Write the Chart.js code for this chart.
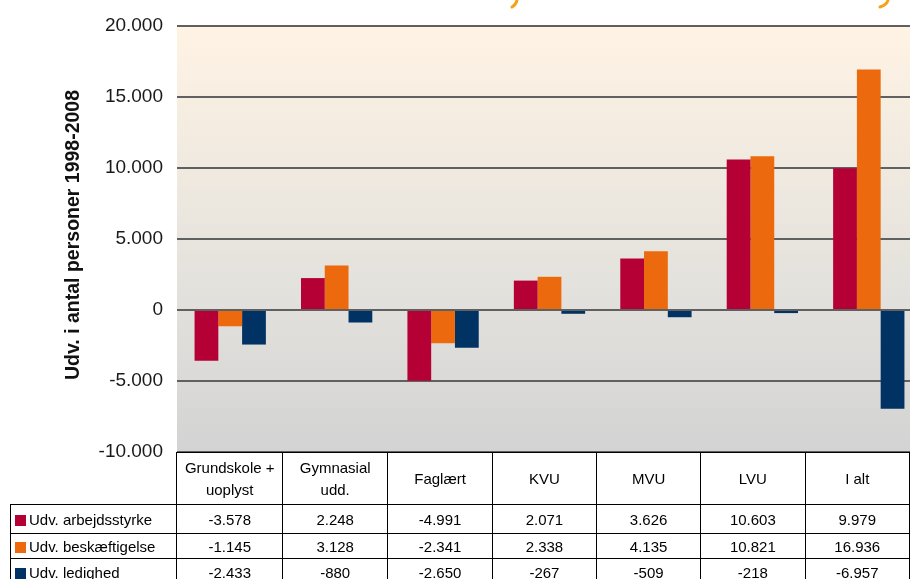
<!DOCTYPE html>
<html>
<head>
<meta charset="utf-8">
<script src="https://cdn.jsdelivr.net/npm/chart.js@4"></script>
<style>
  html, body { margin: 0; padding: 0; overflow: hidden; background: #fff; width: 910px; height: 579px; }
  #wrap { position: absolute; left: 0; top: 0; width: 922px; height: 500px; }
  #tbl {
    position: absolute; left: 10px; top: 452px;
    border-collapse: collapse; table-layout: fixed;
    font-family: "Liberation Sans", Arial, sans-serif; font-size: 15px; color: #000;
  }
  #tbl td { border: 1px solid #000; text-align: center; padding: 0; overflow: hidden; white-space: nowrap; }
  #tbl tr.head td { height: 51px; line-height: 22px; }
  #tbl tr.r0 td { height: 28px; }
  #tbl tr.r1 td { height: 24px; }
  #tbl tr.r2 td { height: 26px; }
  #tbl td.lab { text-align: left; padding-left: 4px; }
  #tbl td.blank { border-top: none; border-left: none; }
  .key { display: inline-block; width: 11px; height: 11px; margin-right: 3px; vertical-align: -1px; }
</style>
</head>
<body>
<div id="wrap"><canvas id="chart"></canvas></div>
<table id="tbl"></table>
<script>
const categories = [['Grundskole +', 'uoplyst'], ['Gymnasial', 'udd.'], 'Faglært', 'KVU', 'MVU', 'LVU', 'I alt'];
const seriesNames = ['Udv. arbejdsstyrke', 'Udv. beskæftigelse', 'Udv. ledighed'];
const arbejdsstyrke = [-3578, 2248, -4991, 2071, 3626, 10603, 9979];
const beskaeftigelse = [-1145, 3128, -2341, 2338, 4135, 10821, 16936];
const ledighed = [-2433, -880, -2650, -267, -509, -218, -6957];
const seriesColors = ['#b50036', '#ec690d', '#003264'];
const yMin = -10000, yMax = 20000, yStep = 5000;
const yTitle = 'Udv. i antal personer 1998-2008';

function fmt(v) {
  const s = Math.abs(v).toString().replace(/\B(?=(\d{3})+(?!\d))/g, '.');
  return (v < 0 ? '-' : '') + s;
}

// Background gradient + axis title + small decorative strokes at top
const decorPlugin = {
  id: 'decor',
  beforeDraw(chart) {
    const { ctx, chartArea: a } = chart;
    const g = ctx.createLinearGradient(0, a.top, 0, a.bottom);
    g.addColorStop(0, '#fff3e4');
    g.addColorStop(0.66, '#e1e0dc');
    g.addColorStop(1, '#d3d3d3');
    ctx.save();
    ctx.fillStyle = g;
    ctx.fillRect(a.left, a.top, a.right - a.left, a.bottom - a.top);
    ctx.restore();
  },
  afterDraw(chart) {
    const { ctx } = chart;
    ctx.save();
    ctx.translate(74, 235);
    ctx.rotate(-Math.PI / 2);
    ctx.font = 'bold 19.5px "Liberation Sans", Arial, sans-serif';
    ctx.fillStyle = '#111';
    ctx.textAlign = 'center';
    ctx.textBaseline = 'middle';
    ctx.fillText(yTitle, 0, 0);
    ctx.restore();

    ctx.save();
    ctx.strokeStyle = '#f6a11a';
    ctx.lineWidth = 3;
    ctx.lineCap = 'round';
    [[517, 0, 512, 7], [888, 0, 880, 7]].forEach(s => {
      ctx.beginPath();
      ctx.moveTo(s[0], s[1]);
      ctx.quadraticCurveTo(s[0] - 1, s[3] - 2, s[2], s[3]);
      ctx.stroke();
    });
    ctx.restore();
  }
};

const datasets = [arbejdsstyrke, beskaeftigelse, ledighed].map((d, i) => ({
  label: seriesNames[i],
  data: d,
  backgroundColor: seriesColors[i],
  borderWidth: 0,
  categoryPercentage: 0.67,
  barPercentage: 1.0
}));

new Chart(document.getElementById('chart'), {
  type: 'bar',
  data: { labels: categories, datasets: datasets },
  options: {
    responsive: true,
    maintainAspectRatio: false,
    animation: false,
    layout: { padding: { top: 26, bottom: 48, left: 0, right: 0 } },
    plugins: { legend: { display: false }, tooltip: { enabled: false } },
    scales: {
      x: { display: false },
      y: {
        min: yMin, max: yMax,
        afterFit(scale) { scale.width = 177; },
        border: { display: false },
        grid: { color: '#606060', lineWidth: 2, drawTicks: false },
        ticks: {
          stepSize: yStep,
          padding: 14,
          color: '#1a1a1a',
          font: { family: '"Liberation Sans", Arial, sans-serif', size: 19 },
          callback: v => fmt(v)
        }
      }
    }
  },
  plugins: [decorPlugin]
});

// Data table under the chart
const tbl = document.getElementById('tbl');
let html = '<colgroup><col style="width:167px">' + categories.map(() => '<col style="width:106.3px">').join('') + '</colgroup>';
html += '<tr class="head"><td class="blank"></td>' + categories.map(c => '<td>' + (Array.isArray(c) ? c.join('<br>') : c) + '</td>').join('') + '</tr>';
[arbejdsstyrke, beskaeftigelse, ledighed].forEach((d, i) => {
  html += '<tr class="r' + i + '"><td class="lab"><span class="key" style="background:' + seriesColors[i] + '"></span>' + seriesNames[i] + '</td>' +
    d.map(v => '<td>' + fmt(v) + '</td>').join('') + '</tr>';
});
tbl.innerHTML = html;
</script>
</body>
</html>
